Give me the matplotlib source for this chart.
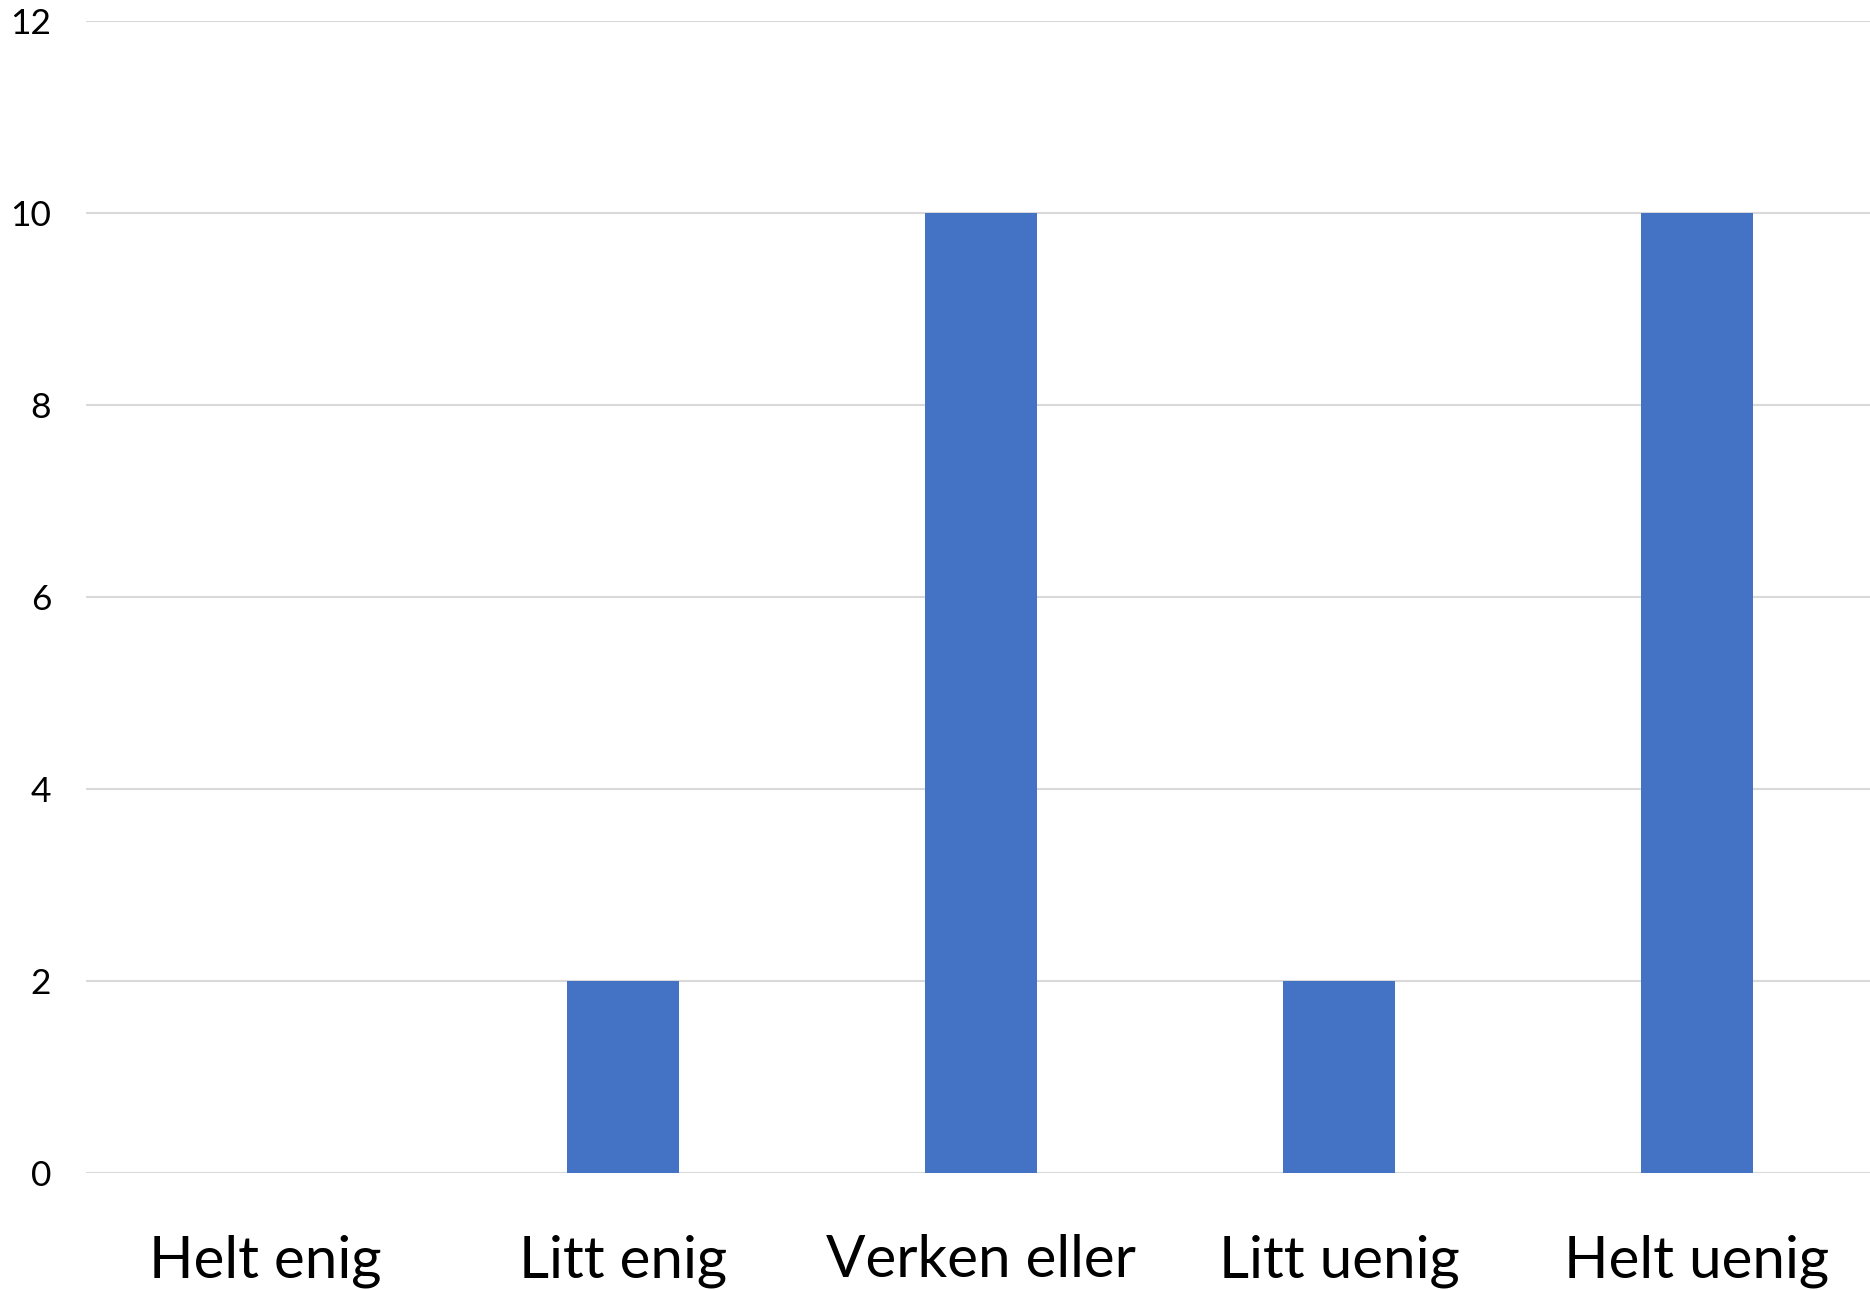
import matplotlib
matplotlib.use("Agg")
import matplotlib.pyplot as plt

categories = ["Helt enig", "Litt enig", "Verken eller", "Litt uenig", "Helt uenig"]
values = [0, 2, 10, 2, 10]
yticks = [0, 2, 4, 6, 8, 10, 12]

plt.rcParams['font.family'] = ['Lato', 'DejaVu Sans']

W, H = 1870, 1290
fig = plt.figure(figsize=(W / 100, H / 100), dpi=100)
left, right, top, bottom = 86, 1870, 21, 1173
ax = fig.add_axes([left / W, 1 - bottom / H, (right - left) / W, (bottom - top) / H])

x = list(range(len(categories)))
ax.bar(x, values, width=0.313, color="#4472C4", zorder=3)

spacing = 358.0
ax.set_xlim(-0.5, -0.5 + (right - left) / spacing)
ax.set_ylim(0, 12)
ax.set_yticks(yticks)
ax.set_yticklabels([str(t) for t in yticks], fontsize=25.5)
ax.set_xticks(x)
ax.set_xticklabels(categories, fontsize=42)
ax.grid(axis="y", color="#d9d9d9", linewidth=1.5, zorder=0)
ax.tick_params(axis="both", length=0)
ax.tick_params(axis="y", pad=25)
ax.tick_params(axis="x", pad=44)
for s in ax.spines.values():
    s.set_visible(False)

fig.savefig("out.png", dpi=100, facecolor="white")
